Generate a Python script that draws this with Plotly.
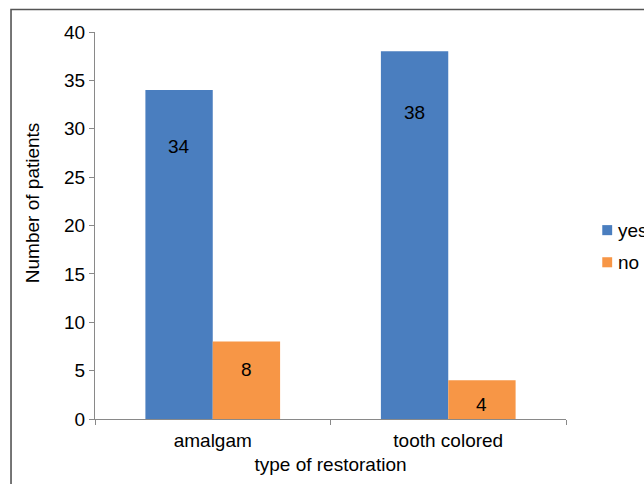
import plotly.graph_objects as go

categories = ["amalgam", "tooth colored"]
yes_values = [34, 38]
no_values = [8, 4]
series_names = ["yes", "no"]
y_ticks = [0, 5, 10, 15, 20, 25, 30, 35, 40]

BLUE = "#4A7EBF"
ORANGE = "#F79646"
AXIS = "#898989"
FONT = "Arial, Liberation Sans, sans-serif"
FS = 19

fig = go.Figure()
fig.add_trace(go.Bar(name=series_names[0], x=categories, y=yes_values,
                     marker=dict(color=BLUE, line=dict(width=0)), offsetgroup="0"))
fig.add_trace(go.Bar(name=series_names[1], x=categories, y=no_values,
                     marker=dict(color=ORANGE, line=dict(width=0)), offsetgroup="1"))

# data labels (placed inside the bars, toward the top, as in the reference)
annotations = []
for i, c in enumerate(categories):
    for vals, xs in ((yes_values, -0.143), (no_values, 0.143)):
        v = vals[i]
        annotations.append(dict(x=i + xs, y=0.888 * v - 2.03, xref="x", yref="y",
                                text=str(v), showarrow=False,
                                xanchor="center", yanchor="middle",
                                font=dict(family=FONT, size=FS, color="black")))

# y-axis title
annotations.append(dict(x=-0.134, y=0.56, xref="paper", yref="paper",
                        text="Number of patients", textangle=-90, showarrow=False,
                        xanchor="center", yanchor="middle",
                        font=dict(family=FONT, size=FS, color="black")))

# custom legend
shapes = []
for k, (name, col) in enumerate(zip(series_names, [BLUE, ORANGE])):
    yc = 0.488 - k * 0.083
    shapes.append(dict(type="rect", xref="paper", yref="paper",
                       x0=1.077, x1=1.098, y0=yc - 0.013, y1=yc + 0.013,
                       fillcolor=col, line=dict(width=0)))
    annotations.append(dict(x=1.106, y=yc, xref="paper", yref="paper",
                            text=name, showarrow=False, xanchor="left",
                            yanchor="middle",
                            font=dict(family=FONT, size=FS, color="black")))

# outer frame (top and left edges visible; the rest lies outside the picture)
FX0, FY1 = -0.1783, 1.0581
shapes.append(dict(type="rect", xref="paper", yref="paper",
                   x0=FX0, x1=1.25, y0=-0.25, y1=FY1, layer="above",
                   line=dict(color="#555555", width=1.6),
                   fillcolor="rgba(0,0,0,0)"))

fig.update_layout(
    width=644, height=484,
    margin=dict(l=95, r=78, t=32, b=65),
    paper_bgcolor="white", plot_bgcolor="white",
    barmode="group", bargap=0.428, bargroupgap=0,
    showlegend=False,
    font=dict(family=FONT, size=FS, color="black"),
    annotations=annotations, shapes=shapes,
    xaxis=dict(
        showline=True, linecolor=AXIS, linewidth=1.3,
        ticks="outside", tickson="boundaries", ticklen=5, tickcolor=AXIS,
        ticklabelstandoff=4,
        tickfont=dict(family=FONT, size=FS, color="black"),
        title=dict(text="type of restoration", standoff=7,
                   font=dict(family=FONT, size=FS, color="black")),
        showgrid=False, automargin=False,
    ),
    yaxis=dict(
        range=[0, 40], tickvals=y_ticks,
        showline=True, linecolor=AXIS, linewidth=1.3,
        ticks="outside", ticklen=5, tickcolor=AXIS,
        tickfont=dict(family=FONT, size=FS, color="black"),
        showgrid=False, zeroline=False, automargin=False,
    ),
)

fig.write_html("out.html", config={"displayModeBar": False},
               post_script=("document.documentElement.style.margin='0';"
                            "document.body.style.margin='0';"
                            "document.body.style.padding='0';"
                            "document.body.style.overflow='hidden';"))
